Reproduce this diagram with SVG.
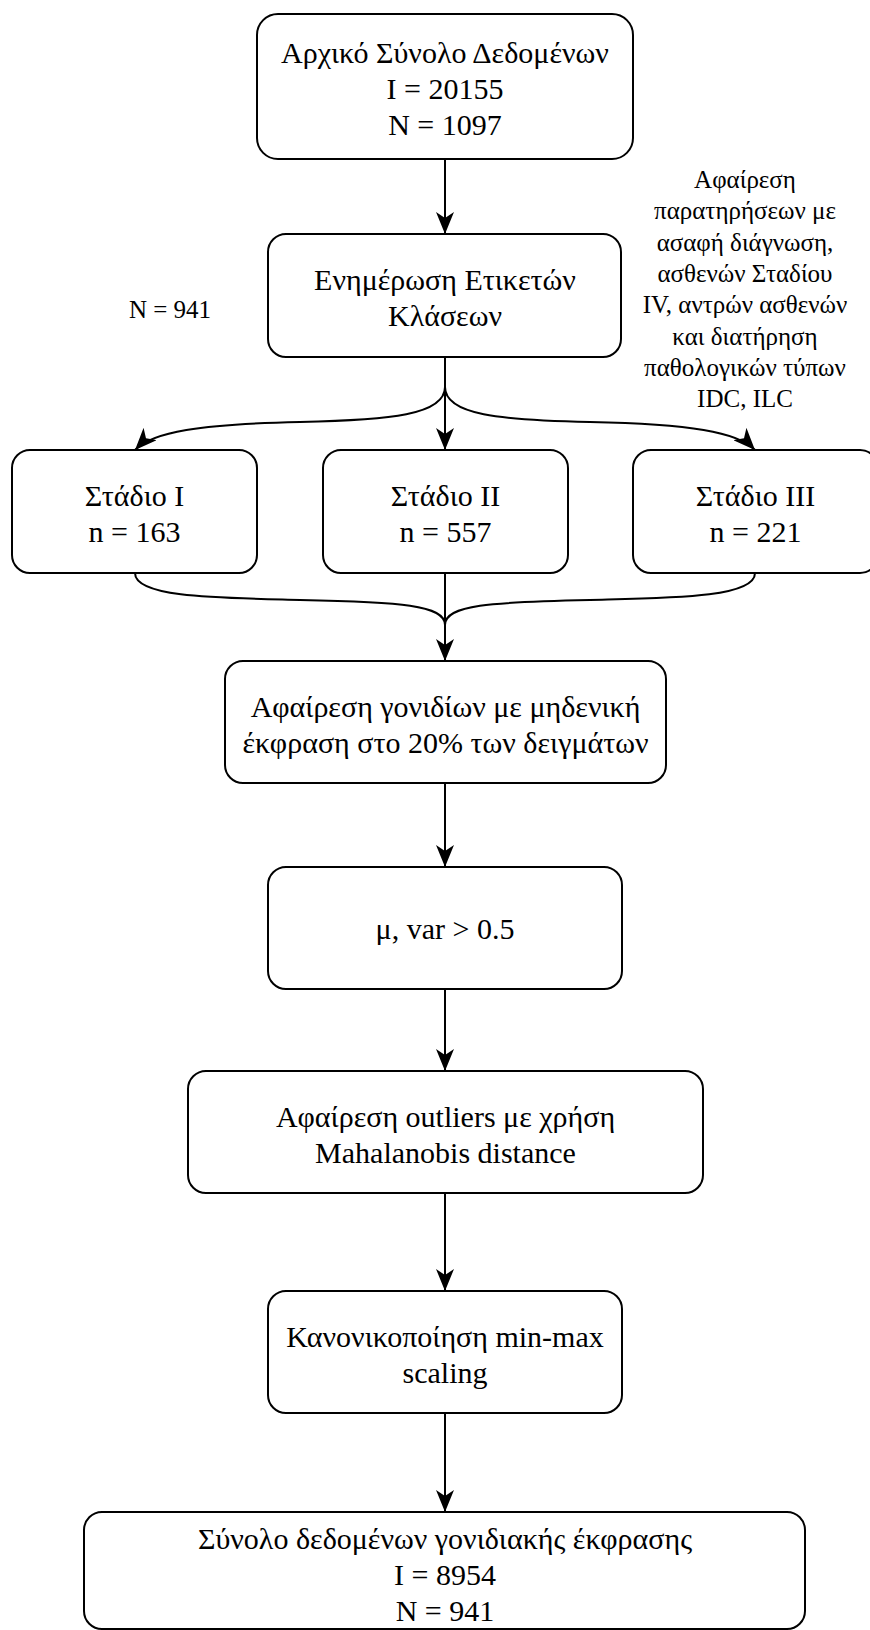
<svg xmlns="http://www.w3.org/2000/svg" width="870" height="1630" viewBox="0 0 870 1630">
  <style>
    .box { fill: #ffffff; stroke: #000000; stroke-width: 2; }
    .edge { fill: none; stroke: #000000; stroke-width: 2; }
    .t { font-family: "Liberation Serif", "Times New Roman", serif; font-size: 30px; fill: #000000; text-anchor: middle; }
    .s { font-family: "Liberation Serif", "Times New Roman", serif; font-size: 25px; fill: #000000; text-anchor: middle; }
  </style>
  <defs>
    <marker id="arrow" viewBox="0 0 22 18" refX="22" refY="9" markerWidth="22" markerHeight="18" markerUnits="userSpaceOnUse" orient="auto">
      <path d="M0,0 L22,9 L0,18 L6,9 Z" fill="#000000"/>
    </marker>
  </defs>
  <rect width="870" height="1630" fill="#ffffff"/>

  <!-- connectors -->
  <g id="connectors">
    <path class="edge" d="M445,159 L445,234" marker-end="url(#arrow)"/>
    <path class="edge" d="M445,357 L445,450" marker-end="url(#arrow)"/>
    <path class="edge" d="M445,387 C445,415 390,420 300,422 C200,424 152,432 135,450" marker-end="url(#arrow)"/>
    <path class="edge" d="M445,387 C445,415 500,420 590,422 C690,424 738,432 755,450" marker-end="url(#arrow)"/>
    <path class="edge" d="M135,573 C135,598 220,598 300,600 C400,602 445,605 445,625"/>
    <path class="edge" d="M755,573 C755,598 670,598 590,600 C490,602 445,605 445,625"/>
    <path class="edge" d="M445,573 L445,661" marker-end="url(#arrow)"/>
    <path class="edge" d="M445,783 L445,867" marker-end="url(#arrow)"/>
    <path class="edge" d="M445,989 L445,1071" marker-end="url(#arrow)"/>
    <path class="edge" d="M445,1193 L445,1291" marker-end="url(#arrow)"/>
    <path class="edge" d="M445,1413 L445,1512" marker-end="url(#arrow)"/>
  </g>

  <g id="initial-dataset">
    <rect class="box" x="257" y="14" width="376" height="145" rx="21" ry="21"/>
    <text class="t" x="445" y="63">Αρχικό Σύνολο Δεδομένων</text>
    <text class="t" x="445" y="99">I = 20155</text>
    <text class="t" x="445" y="135">N = 1097</text>
  </g>

  <g id="label-update">
    <rect class="box" x="268" y="234" width="353" height="123" rx="18" ry="18"/>
    <text class="t" x="445" y="290">Ενημέρωση Ετικετών</text>
    <text class="t" x="445" y="326">Κλάσεων</text>
  </g>

  <g id="count-label">
    <text class="s" x="170" y="318">N = 941</text>
  </g>

  <g id="filter-note">
    <text class="s" x="745" y="188">Αφαίρεση</text>
    <text class="s" x="745" y="219">παρατηρήσεων με</text>
    <text class="s" x="745" y="251">ασαφή διάγνωση,</text>
    <text class="s" x="745" y="282">ασθενών Σταδίου</text>
    <text class="s" x="745" y="313">IV, αντρών ασθενών</text>
    <text class="s" x="745" y="345">και διατήρηση</text>
    <text class="s" x="745" y="376">παθολογικών τύπων</text>
    <text class="s" x="745" y="407">IDC, ILC</text>
  </g>

  <g id="stage-1">
    <rect class="box" x="12" y="450" width="245" height="123" rx="18" ry="18"/>
    <text class="t" x="134.5" y="506">Στάδιο I</text>
    <text class="t" x="134.5" y="542">n = 163</text>
  </g>

  <g id="stage-2">
    <rect class="box" x="323" y="450" width="245" height="123" rx="18" ry="18"/>
    <text class="t" x="445.5" y="506">Στάδιο II</text>
    <text class="t" x="445.5" y="542">n = 557</text>
  </g>

  <g id="stage-3">
    <rect class="box" x="633" y="450" width="245" height="123" rx="18" ry="18"/>
    <text class="t" x="755.5" y="506">Στάδιο III</text>
    <text class="t" x="755.5" y="542">n = 221</text>
  </g>

  <g id="zero-expression-filter">
    <rect class="box" x="225" y="661" width="441" height="122" rx="18" ry="18"/>
    <text class="t" x="445.5" y="717">Αφαίρεση γονιδίων με μηδενική</text>
    <text class="t" x="445.5" y="753">έκφραση στο 20% των δειγμάτων</text>
  </g>

  <g id="mean-variance-filter">
    <rect class="box" x="268" y="867" width="354" height="122" rx="18" ry="18"/>
    <text class="t" x="445" y="939">μ, var &gt; 0.5</text>
  </g>

  <g id="outlier-removal">
    <rect class="box" x="188" y="1071" width="515" height="122" rx="18" ry="18"/>
    <text class="t" x="445.5" y="1127">Αφαίρεση outliers με χρήση</text>
    <text class="t" x="445.5" y="1163">Mahalanobis distance</text>
  </g>

  <g id="normalisation">
    <rect class="box" x="268" y="1291" width="354" height="122" rx="18" ry="18"/>
    <text class="t" x="445" y="1347">Κανονικοποίηση min-max</text>
    <text class="t" x="445" y="1383">scaling</text>
  </g>

  <g id="final-dataset">
    <rect class="box" x="84" y="1512" width="721" height="117" rx="18" ry="18"/>
    <text class="t" x="445" y="1549">Σύνολο δεδομένων γονιδιακής έκφρασης</text>
    <text class="t" x="445" y="1585">I = 8954</text>
    <text class="t" x="445" y="1621">N = 941</text>
  </g>
</svg>
